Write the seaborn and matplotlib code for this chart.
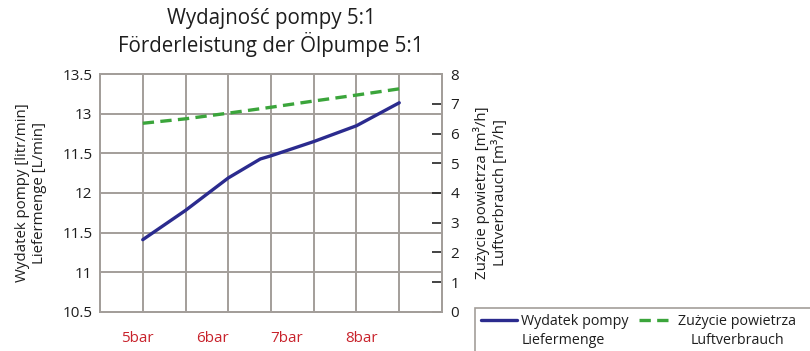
import matplotlib
matplotlib.use("Agg")
import matplotlib.pyplot as plt
from matplotlib.patches import Rectangle
from matplotlib.lines import Line2D
import seaborn as sns
import pandas as pd
import numpy as np

# Data
pressure_labels = ["5bar", "6bar", "7bar", "8bar"]
step = [1, 2, 3, 3.75, 4, 5, 6, 7]
pump_output = [11.41, 11.78, 12.19, 12.43, 12.47, 12.65, 12.85, 13.14]   # litr/min
air_consumption = [6.35, 6.50, 6.69, 6.84, 6.89, 7.10, 7.30, 7.51]      # m3/h
left_ticks = [10.5, 11, 11.5, 12, 12.5, 13, 13.5]
left_tick_labels = ["10.5", "11", "11.5", "12", "11.5", "13", "13.5"]
right_ticks = [0, 1, 2, 3, 4, 5, 6, 7, 8]
series_names = [("Wydatek pompy", "Liefermenge"), ("Zużycie powietrza", "Luftverbrauch")]

sns.set_style("white")
plt.rcParams["font.family"] = ["Open Sans", "DejaVu Sans"]

GRID = "#a39e9a"
BLUE = "#2b2b8e"
GREEN = "#3ba53b"
RED = "#c8232c"
TXT = "#1e1e1e"
DASH = (0, (3.4, 1.9))
LEG_FS = 10.3

df = pd.DataFrame({"step": step, "pump": pump_output, "air": air_consumption})

W, H = 810, 351
fig = plt.figure(figsize=(W / 100, H / 100), dpi=100)
ax = fig.add_axes([100 / W, 1 - 311.7 / H, 342 / W, (311.7 - 74.3) / H])
ax2 = ax.twinx()

sns.lineplot(data=df, x="step", y="pump", ax=ax, color=BLUE, lw=2.4, legend=False)
sns.lineplot(data=df, x="step", y="air", ax=ax2, color=GREEN, lw=2.4, legend=False)
ax2.lines[0].set_linestyle(DASH)

# left axis
ax.set_xlim(0, 8)
ax.set_ylim(10.5, 13.5)
ax.set_yticks(left_ticks)
ax.set_yticklabels(left_tick_labels)
ax.tick_params(axis="y", length=0, pad=5.5, labelsize=11, colors=TXT)
ax.yaxis.grid(True, color=GRID, lw=1.4)
ax.set_xticks(np.arange(1, 8), minor=True)
ax.xaxis.grid(True, which="minor", color=GRID, lw=1.4)
cat_w = 7 / len(pressure_labels)
ax.set_xticks([(i + 0.5) * cat_w for i in range(len(pressure_labels))])
ax.set_xticklabels(pressure_labels)
ax.tick_params(axis="x", which="both", length=0, pad=14, labelsize=11, labelcolor=RED)
ax.set_xlabel("")
ax.set_ylabel("Wydatek pompy [litr/min]\nLiefermenge [L/min]", fontsize=10.8,
              color=TXT, labelpad=11, linespacing=1.2)

# right axis
ax2.set_ylim(0, 8)
ax2.set_yticks(right_ticks)
ax2.tick_params(axis="y", direction="in", length=7, width=1.2, color="#222222",
                pad=6, labelsize=11, labelcolor=TXT)
ax2.set_ylabel("Zużycie powietrza [m³/h]\nLuftverbrauch [m³/h]", fontsize=10.8,
               color=TXT, labelpad=10, linespacing=1.2)
ax2.grid(False)

for a in (ax, ax2):
    for s in a.spines.values():
        s.set_visible(True)
        s.set_color(GRID)
        s.set_linewidth(1.4)

fig.text(271 / W, 1 - 32.5 / H, "Wydajność pompy 5:1\nFörderleistung der Ölpumpe 5:1",
         ha="center", va="center", fontsize=14.8, color=TXT, linespacing=1.15)

# legend box, running off the lower right edge of the figure
fig.patches.append(Rectangle((475 / W, -0.1), 1.0, (H - 308) / H + 0.1,
                             transform=fig.transFigure, fill=False,
                             edgecolor=GRID, lw=1.2))
handles = [Line2D([], [], color=BLUE, lw=2.4),
           Line2D([], [], color=GREEN, lw=2.4, linestyle=DASH)]
leg = fig.legend(handles, [n[0] for n in series_names], loc="upper left",
                 bbox_to_anchor=(475 / W, 1 - 308 / H), borderaxespad=0,
                 ncol=2, frameon=False, fontsize=LEG_FS, handlelength=2.5,
                 handletextpad=0.28, columnspacing=0.7, borderpad=0.45,
                 labelcolor=TXT)

fig.canvas.draw()
r = fig.canvas.get_renderer()
inv = fig.transFigure.inverted()
for i, t in enumerate(leg.get_texts()):
    bb = t.get_window_extent(r)
    x0, y0 = inv.transform((bb.x0, bb.y0))
    x1, _ = inv.transform((bb.x1, bb.y0))
    if i == 0:
        fig.text(x0, y0 - 4 / H, series_names[i][1], ha="left", va="top",
                 fontsize=LEG_FS, color=TXT)
    else:
        fig.text((x0 + x1) / 2, y0 - 4 / H, series_names[i][1], ha="center", va="top",
                 fontsize=LEG_FS, color=TXT)

fig.savefig("out.png", dpi=100)
